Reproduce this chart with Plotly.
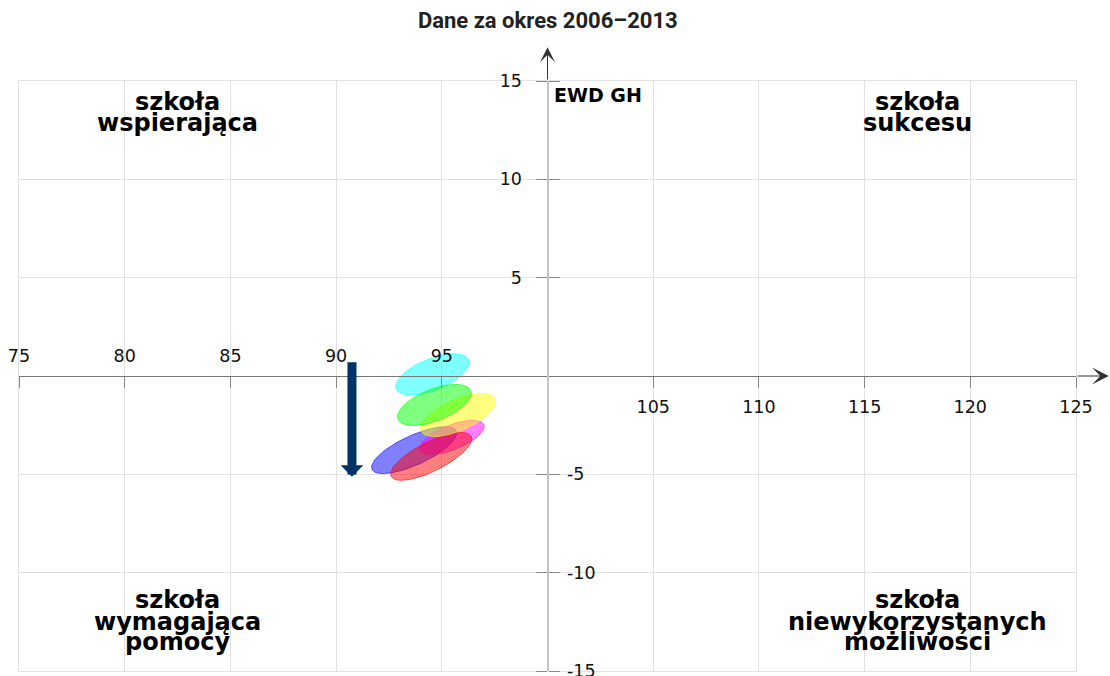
import numpy as np
import plotly.graph_objects as go

# elipsy EWD dla kolejnych okresów trzyletnich (od góry do dołu)
okresy = ["2006–2008", "2007–2009", "2008–2010", "2009–2011", "2010–2012", "2011–2013"]
wynik_egz = [94.56, 94.65, 95.77, 95.48, 93.69, 94.50]
ewd = [0.08, -1.47, -1.98, -3.12, -3.77, -4.09]
polos_duza = [1.87, 1.87, 1.93, 1.64, 2.22, 2.15]
polos_mala = [0.79, 0.80, 0.79, 0.62, 0.74, 0.73]
kat_obrotu = [24, 23.5, 25.6, 23.5, 26.6, 28.7]
kolory = [
    (0, 255, 255),
    (0, 255, 0),
    (255, 255, 0),
    (255, 0, 255),
    (0, 0, 255),
    (255, 0, 0),
]
kolejnosc_rysowania = [4, 3, 5, 2, 0, 1]

# strzałka trendu
trend_x = 90.75
trend_od = 0.78
trend_do = -5.12

x_ticks = [75, 80, 85, 90, 95, 105, 110, 115, 120, 125]
y_ticks = [-15, -10, -5, 5, 10, 15]

tytul = "Dane za okres 2006–2013"
os_x_tytul = "wynik egzaminu gimnazjalnego"
os_y_tytul = "EWD GH"
cwiartki = {
    "lewa_gora": ["szkoła", "wspierająca"],
    "prawa_gora": ["szkoła", "sukcesu"],
    "lewa_dol": ["szkoła", "wymagająca", "pomocy"],
    "prawa_dol": ["szkoła", "niewykorzystanych", "możliwości"],
}

TICK_FONT = dict(family="DejaVu Sans", size=17.5, color="#111")
LABEL_FONT = dict(family="DejaVu Sans", size=24, color="#000", weight="bold")
AXIS_TITLE_FONT = dict(family="DejaVu Sans", size=19, color="#000", weight="bold")
GRID = "#e2e2e2"

fig = go.Figure()

t = np.linspace(0, 2 * np.pi, 120)
for i in kolejnosc_rysowania:
    th = np.deg2rad(kat_obrotu[i])
    a, b = polos_duza[i], polos_mala[i]
    ex = wynik_egz[i] + a * np.cos(t) * np.cos(th) - b * np.sin(t) * np.sin(th)
    ey = ewd[i] + a * np.cos(t) * np.sin(th) + b * np.sin(t) * np.cos(th)
    r, g, bl = kolory[i]
    fig.add_trace(
        go.Scatter(
            x=ex,
            y=ey,
            mode="lines",
            fill="toself",
            fillcolor=f"rgba({r},{g},{bl},0.5)",
            line=dict(color=f"rgba({r},{g},{bl},0.6)", width=1),
            name=okresy[i],
            hoverinfo="name",
            showlegend=False,
        )
    )

# puste ślady, żeby osie pomocnicze (przecinające się w środku) zostały narysowane
fig.add_trace(go.Scatter(x=[], y=[], xaxis="x2", yaxis="y2", showlegend=False))
fig.add_trace(go.Scatter(x=[], y=[], xaxis="x3", yaxis="y3", showlegend=False))

annotations = []

# podpisy ćwiartek, każda linia osobno (ciasna interlinia)
gora_y = [13.92, 12.88]
dol_y = [-11.40, -12.52, -13.54]
for key, cx in [("lewa_gora", 82.5), ("prawa_gora", 117.5)]:
    for line, ly in zip(cwiartki[key], gora_y):
        annotations.append(dict(x=cx, y=ly, text=line, showarrow=False, font=LABEL_FONT))
for key, cx in [("lewa_dol", 82.5), ("prawa_dol", 117.5)]:
    for line, ly in zip(cwiartki[key], dol_y):
        annotations.append(dict(x=cx, y=ly, text=line, showarrow=False, font=LABEL_FONT))

annotations += [
    dict(x=100, y=14.31, text=os_y_tytul, showarrow=False, xanchor="left",
         xshift=4, font=AXIS_TITLE_FONT),
    dict(x=125.95, y=-2.36, text=os_x_tytul, showarrow=False, xanchor="right",
         font=AXIS_TITLE_FONT),
    # strzałki osi
    dict(x=126.55, y=0, ax=125, ay=0, axref="x", ayref="y", text="",
         showarrow=True, arrowhead=3, arrowsize=2.8, arrowwidth=1, arrowcolor="#333"),
    dict(x=100, y=16.72, ax=100, ay=15, axref="x", ayref="y", text="",
         showarrow=True, arrowhead=3, arrowsize=2.5, arrowwidth=1, arrowcolor="#333"),
    # trend
    dict(x=trend_x, y=trend_do, ax=trend_x, ay=trend_od, axref="x", ayref="y", text="",
         showarrow=True, arrowhead=1, arrowsize=0.42, arrowwidth=9, arrowcolor="#003366"),
]

fig.update_layout(
    width=1110,
    height=676,
    margin=dict(l=19, r=34, t=81, b=5, autoexpand=False),
    paper_bgcolor="white",
    plot_bgcolor="white",
    showlegend=False,
    title=dict(
        text=tytul,
        x=0.4935,
        xanchor="center",
        y=1 - 20 / 676,
        yanchor="middle",
        yref="container",
        font=dict(family="Liberation Sans Narrow, Roboto, sans-serif", size=22,
                  color="#222", weight="bold"),
    ),
    annotations=annotations,
    xaxis=dict(range=[75, 125], dtick=5, tick0=75, showgrid=True, gridcolor=GRID,
               gridwidth=1, showticklabels=False, ticks="", zeroline=False,
               showline=True, mirror=True, linecolor=GRID, linewidth=1, automargin=False),
    yaxis=dict(range=[-15, 15], dtick=5, tick0=-15, showgrid=True, gridcolor=GRID,
               gridwidth=1, showticklabels=False, ticks="", zeroline=False,
               showline=True, mirror=True, linecolor=GRID, linewidth=1, automargin=False),
    xaxis2=dict(overlaying="x", anchor="free", position=0.5, side="top", range=[75, 125],
                tickmode="array", tickvals=x_ticks,
                ticktext=[str(v) if v < 100 else "" for v in x_ticks],
                ticks="", showline=True, linecolor="#777", linewidth=1, showgrid=False,
                zeroline=False, tickfont=TICK_FONT, ticklabelstandoff=7, automargin=False),
    xaxis3=dict(overlaying="x", anchor="free", position=0.5, side="bottom", range=[75, 125],
                tickmode="array", tickvals=x_ticks,
                ticktext=[str(v) if v > 100 else "" for v in x_ticks],
                ticks="outside", ticklen=11, tickcolor="#888", showline=False,
                showgrid=False, zeroline=False, tickfont=TICK_FONT, ticklabelstandoff=4,
                automargin=False),
    yaxis2=dict(overlaying="y", anchor="free", position=0.5, side="left", range=[-15, 15],
                tickmode="array", tickvals=y_ticks,
                ticktext=[str(v) if v > 0 else "" for v in y_ticks],
                ticks="outside", ticklen=11, tickcolor="#888", showline=True,
                linecolor="#c4c4c4", linewidth=2, showgrid=False, zeroline=False,
                tickfont=TICK_FONT, ticklabelstandoff=10, automargin=False),
    yaxis3=dict(overlaying="y", anchor="free", position=0.5, side="right", range=[-15, 15],
                tickmode="array", tickvals=y_ticks,
                ticktext=[str(v) if v < 0 else "" for v in y_ticks],
                ticks="outside", ticklen=11, tickcolor="#888", showline=False,
                showgrid=False, zeroline=False, tickfont=TICK_FONT, ticklabelstandoff=4,
                ticklabeloverflow="allow", automargin=False),
)

fig.write_html(
    "out.html",
    config={"displayModeBar": False},
    post_script="document.body.style.margin='0px';",
)
